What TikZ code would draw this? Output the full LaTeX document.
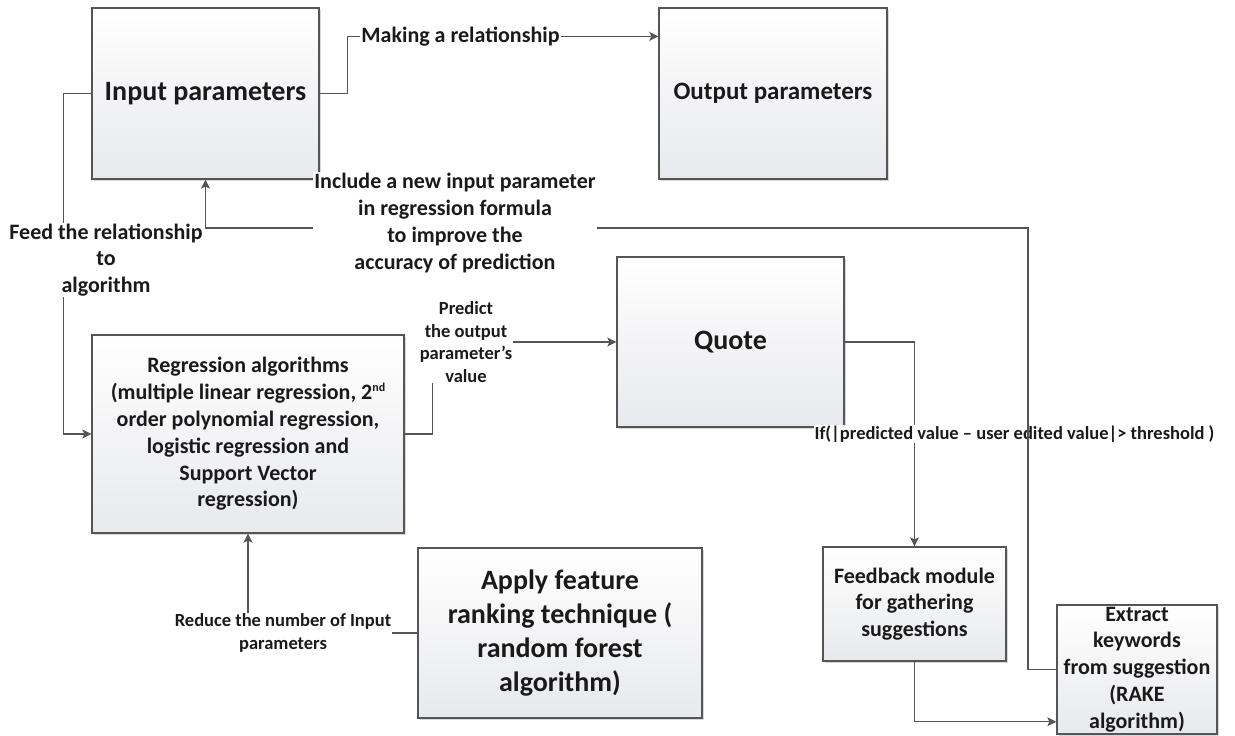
\documentclass[tikz,border=0pt]{standalone}
\usepackage{fontspec}
\setmainfont{Carlito}
\usetikzlibrary{arrows.meta,calc,shadows}
\definecolor{lineg}{HTML}{555555}
\definecolor{boxbot}{HTML}{E8E9EC}
\definecolor{txt}{HTML}{1A1A1A}
\newcommand{\supnd}{\raisebox{0.75ex}{\fontsize{12}{12}\selectfont nd}}
\tikzset{
 box/.style={draw=lineg, line width=1.3pt, top color=white, bottom color=boxbot,
   drop shadow={shadow xshift=1.8pt, shadow yshift=-1.8pt, fill=black!30, opacity=0.5},
   inner sep=2pt, align=center, text=txt},
 conn/.style={draw=lineg, line width=1.3pt, -{Stealth[length=9pt,width=9pt,inset=2pt]}},
 lbl/.style={fill=white, inner sep=1pt, align=center, text=txt, font=\bfseries\fontsize{22}{26.8}\selectfont},
 slbl/.style={lbl, font=\bfseries\fontsize{18.5}{22.5}\selectfont},
 bigf/.style={font=\bfseries\fontsize{28}{34}\selectfont},
 midf/.style={font=\bfseries\fontsize{22}{26.8}\selectfont},
}
\begin{document}
\begin{tikzpicture}[x=1pt,y=-1pt]
\useasboundingbox (0,0) rectangle (1235,736);
% boxes
\node[box, bigf, minimum width=227pt, minimum height=171pt] (inp) at (205.5,93.5) {Input parameters};
\node[box, font=\bfseries\fontsize{25}{30}\selectfont, minimum width=228pt, minimum height=171pt] (outp) at (773,93.5) {Output parameters};
\node[box, midf, minimum width=312pt, minimum height=198pt] (reg) at (248,434)
 {Regression algorithms\\(multiple linear regression, 2\supnd\\order polynomial regression,\\logistic regression and\\Support Vector\\regression)};
\node[box, bigf, minimum width=227pt, minimum height=170pt] (quote) at (730.5,342) {Quote};
\node[box, bigf, minimum width=284pt, minimum height=170pt] (apply) at (560,633)
 {Apply feature\\ranking technique (\\random forest\\algorithm)};
\node[box, midf, minimum width=183pt, minimum height=114pt] (fb) at (914.5,604)
 {Feedback module\\for gathering\\suggestions};
\node[box, midf, minimum width=160pt, minimum height=129pt] (ext) at (1137,669.5)
 {Extract\\keywords\\from suggestion\\(RAKE\\algorithm)};
% helper coordinates
\coordinate (mk) at ($(outp.north west)+(0,29)$);
\coordinate (fe) at ($(ext.south west)+(0,-13)$);
\coordinate (lp) at (1028,228);
% connectors
\draw[conn] (inp.east) -- ++(28,0) |- (mk);
\draw[conn] (inp.west) -- ++(-28,0) |- (reg.west);
\draw[conn] (reg.east) -- ++(28,0) |- (quote.west);
\draw[conn] (apply.west) -| (reg.south);
\draw[conn] (quote.east) -| (fb.north);
\draw[conn] (fb.south) |- (fe);
% labels
\node[lbl] (lmk) at (460.5,37) {Making a relationship};
\node[lbl] (lfeed) at (106,260) {Feed the relationship\\to\\algorithm};
\node[slbl] (lpred) at (466,342) {Predict\\the output\\parameter’s\\value};
\node[slbl] (lred) at (283,633) {Reduce the number of Input\\parameters};
\node[slbl] (lif) at (1014.5,434) {If(|predicted value – user edited value|> threshold )};
% feedback loop
\draw[conn] (ext.west) -| (lp) -| (inp.south);
\node[lbl] (linc) at (455,223) {Include a new input parameter\\in regression formula\\to improve the\\accuracy of prediction};
\end{tikzpicture}
\end{document}
